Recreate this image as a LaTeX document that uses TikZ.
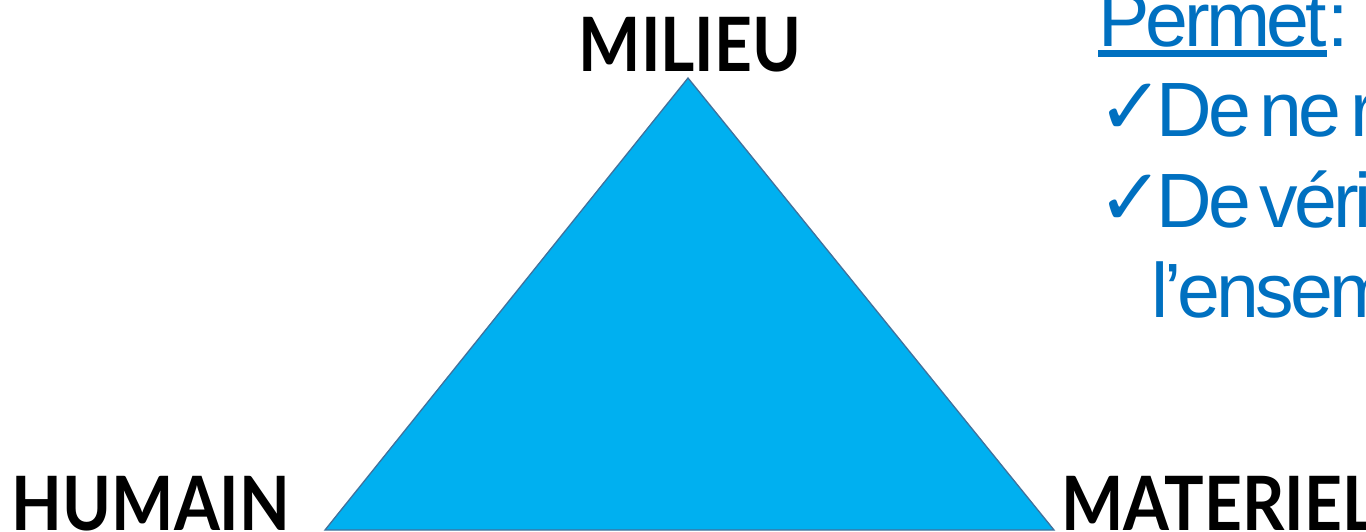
\documentclass[tikz,border=0pt]{standalone}
\usepackage{fontspec}
\newfontfamily\labfont{Lato}[FakeStretch=0.88]
\newfontfamily\bluefont{Liberation Sans}[LetterSpace=-5, WordSpace=0.5]
\newfontfamily\symfont{DejaVu Sans}
\definecolor{trifill}{HTML}{00B0F0}
\definecolor{triedge}{HTML}{41719C}
\definecolor{txtblue}{HTML}{0070C0}
\tikzset{
  lab/.style={inner sep=0pt, anchor=base, font=\labfont\bfseries\fontsize{75}{75}\selectfont, text=black},
  blue/.style={inner sep=0pt, anchor=base west, font=\bluefont\fontsize{77}{77}\selectfont, text=txtblue},
  chk/.style={inner sep=0pt, anchor=base west, font=\symfont\fontsize{80}{80}\selectfont, text=txtblue},
}
\begin{document}
\begin{tikzpicture}[x=1pt,y=-1pt]
\useasboundingbox (0,0) rectangle (1366,532);
\clip (0,0) rectangle (1366,532);
\fill[white] (0,0) rectangle (1366,532);
\coordinate (top) at (688,78);
\coordinate (bl) at (325,530);
\coordinate (br) at (1054,530);
\draw[fill=trifill, draw=triedge, line width=1.3pt, line join=miter] (top) -- (bl) -- (br) -- cycle;
\node[lab] (milieu) at (690,72) {MILIEU};
\node[lab] (humain) at (151,530) {HUMAIN};
\node[lab, anchor=base west] (materiel) at (1061,530) {MATERIEL};
\node[blue] (permet) at (1098,47) {Permet};
\node[blue, anchor=base west] (colon) at (permet.base east) {:};
\draw[txtblue, line width=7pt] ([yshift=-6.5pt]permet.base west) -- ([yshift=-6.5pt]permet.base east);
\node[chk] (c1) at (1097,135) {✓};
\node[blue] (l1) at (1156,137) {De ne r};
\node[chk] (c2) at (1097,225) {✓};
\node[blue] (l2) at (1156,227) {De véri};
\node[blue] (l3) at (1151,317) {l’ensem};
\end{tikzpicture}
\end{document}
